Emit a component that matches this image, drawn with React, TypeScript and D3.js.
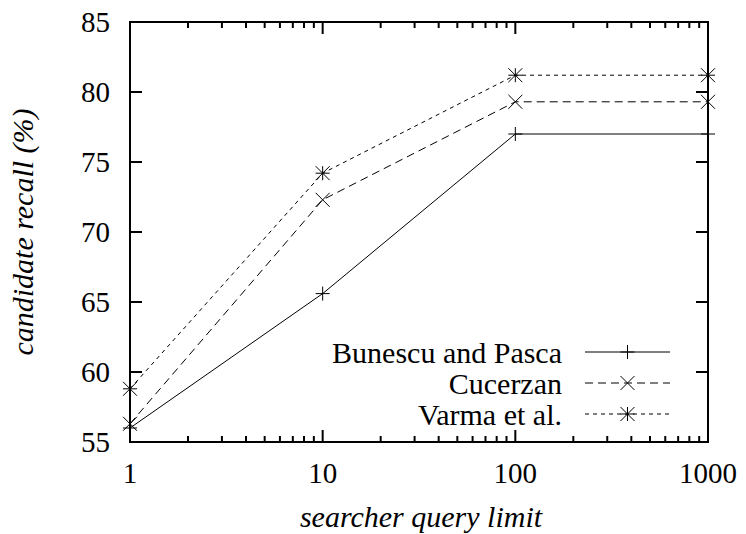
import React from "react";
import * as d3 from "d3";

const xValues = [1, 10, 100, 1000];
const bunescu = [56.0, 65.6, 77.0, 77.0];
const cucerzan = [56.3, 72.3, 79.3, 79.3];
const varma = [58.8, 74.2, 81.2, 81.2];
const seriesNames = ["Bunescu and Pasca", "Cucerzan", "Varma et al."];
const yTicks = [55, 60, 65, 70, 75, 80, 85];
const xTicks = [1, 10, 100, 1000];

const W = 746, H = 534;
const L = 130, R = 708, T = 22, B = 442;

export default function App() {
  const x = d3.scaleLog().domain([1, 1000]).range([L, R]);
  const y = d3.scaleLinear().domain([55, 85]).range([B, T]);
  const ff = { fontFamily: "Liberation Serif" };
  const series = [
    { name: seriesNames[0], vals: bunescu, dash: "none", marker: "plus" },
    { name: seriesNames[1], vals: cucerzan, dash: "8,5", marker: "cross" },
    { name: seriesNames[2], vals: varma, dash: "4,4", marker: "star" },
  ];
  const line = d3.line<[number, number]>().x(d => x(d[0])).y(d => y(d[1]));
  const minor: number[] = [];
  for (let dec = 1; dec < 1000; dec *= 10) for (let k = 2; k < 10; k++) minor.push(dec * k);
  const marker = (type: string, cx: number, cy: number, key: string) => {
    const s = 7;
    const parts: React.ReactNode[] = [];
    if (type === "plus" || type === "star") {
      parts.push(<line key="h" x1={cx - s} x2={cx + s} y1={cy} y2={cy} />);
      parts.push(<line key="v" x1={cx} x2={cx} y1={cy - s} y2={cy + s} />);
    }
    if (type === "cross" || type === "star") {
      parts.push(<line key="d1" x1={cx - s} x2={cx + s} y1={cy - s} y2={cy + s} />);
      parts.push(<line key="d2" x1={cx - s} x2={cx + s} y1={cy + s} y2={cy - s} />);
    }
    return <g key={key} stroke="#000" strokeWidth={1}>{parts}</g>;
  };
  const legY = [352, 383, 414];
  return (
    <svg width={W} height={H} style={{ position: "absolute", left: 0, top: 0, background: "#fff" }}>
      <rect width={W} height={H} fill="#fff" />
      <g stroke="#000" strokeWidth={2}>
        {yTicks.map(t => (
          <g key={t}>
            <line x1={L} x2={L + 12} y1={y(t)} y2={y(t)} />
            <line x1={R} x2={R - 12} y1={y(t)} y2={y(t)} />
          </g>
        ))}
        {xTicks.map(t => (
          <g key={t}>
            <line x1={x(t)} x2={x(t)} y1={B} y2={B - 12} />
            <line x1={x(t)} x2={x(t)} y1={T} y2={T + 12} />
          </g>
        ))}
        {minor.map(t => (
          <g key={t}>
            <line x1={x(t)} x2={x(t)} y1={B} y2={B - 6} />
            <line x1={x(t)} x2={x(t)} y1={T} y2={T + 6} />
          </g>
        ))}
      </g>
      {series.map(s => (
        <g key={s.name}>
          <path d={line(xValues.map((v, i) => [v, s.vals[i]] as [number, number])) || ""}
            fill="none" stroke="#000" strokeWidth={1} strokeDasharray={s.dash} />
          {xValues.map((v, i) => marker(s.marker, x(v), y(s.vals[i]), s.name + i))}
        </g>
      ))}
      <rect x={L} y={T} width={R - L} height={B - T} fill="none" stroke="#000" strokeWidth={2} />
      <g fontSize={29} fill="#000">
        {yTicks.map(t => (
          <text key={t} x={110} y={y(t)} dy="0.35em" textAnchor="end" style={ff}>{t}</text>
        ))}
        {xTicks.map(t => (
          <text key={t} x={x(t)} y={483} textAnchor="middle" style={ff}>{t}</text>
        ))}
      </g>
      <text x={421} y={527} textAnchor="middle" style={ff} fontSize={30} fontStyle="italic">searcher query limit</text>
      <text transform={`translate(33,232) rotate(-90)`} textAnchor="middle" style={ff} fontSize={30} fontStyle="italic">candidate recall (%)</text>
      {series.map((s, i) => (
        <g key={s.name}>
          <text x={562} y={legY[i]} dy="0.35em" textAnchor="end" style={ff} fontSize={30}>{s.name}</text>
          <line x1={585} x2={670} y1={legY[i]} y2={legY[i]} stroke="#000" strokeWidth={1} strokeDasharray={s.dash} />
          {marker(s.marker, 627.5, legY[i], "leg" + i)}
        </g>
      ))}
    </svg>
  );
}
